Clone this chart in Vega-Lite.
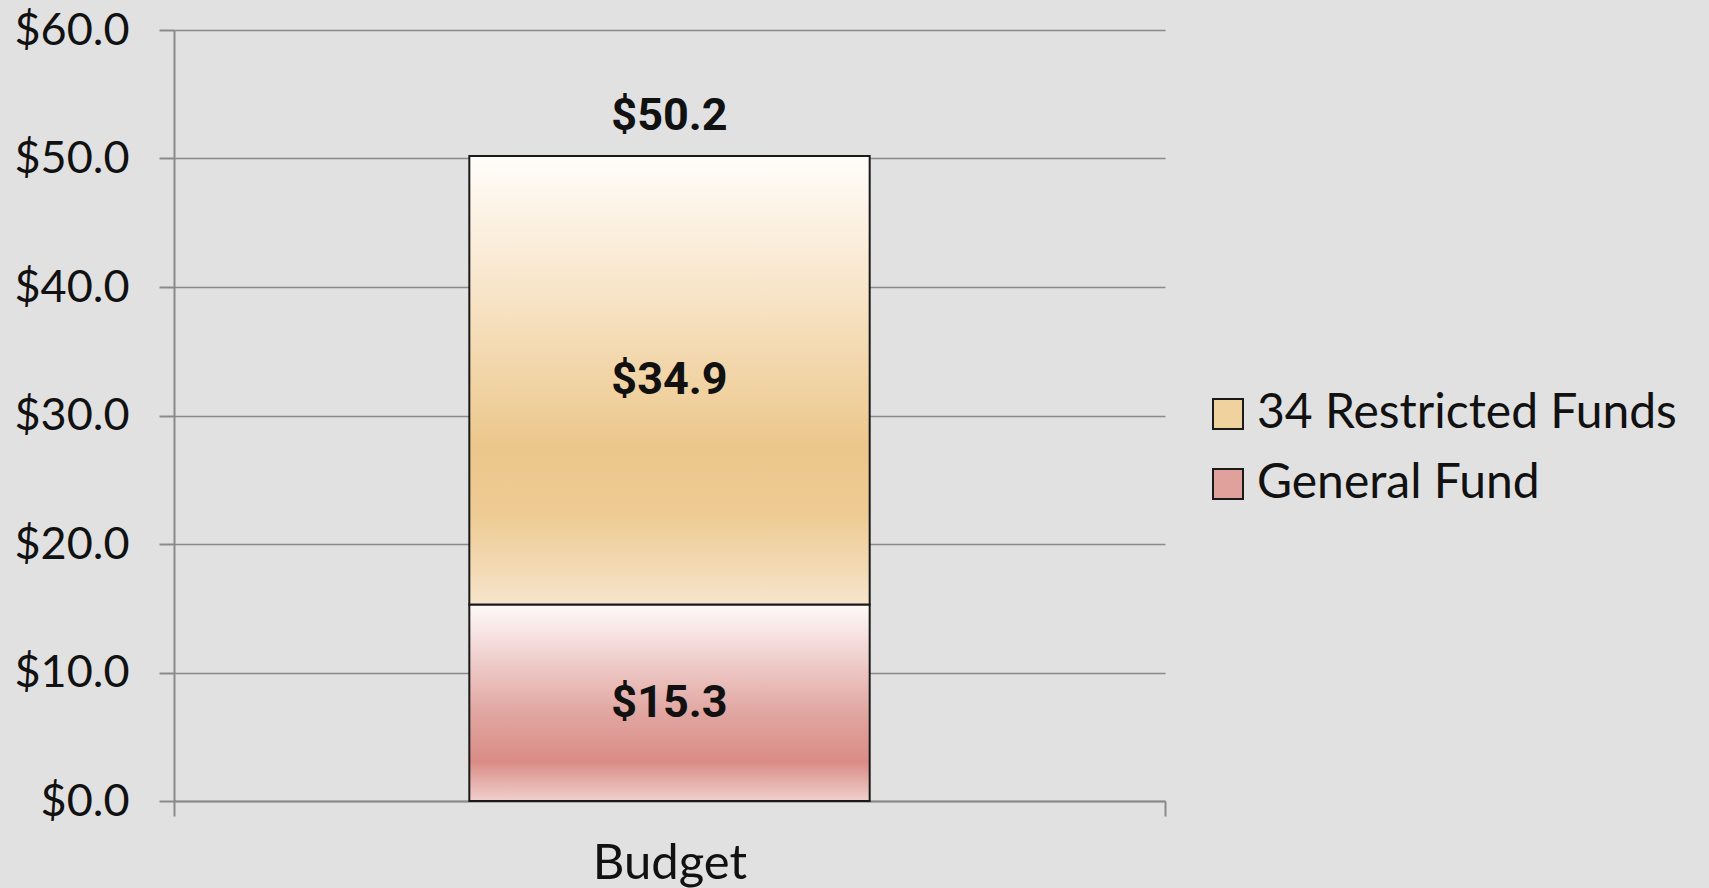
{
  "$schema": "https://vega.github.io/schema/vega-lite/v6.json",
  "autosize": {"type": "none"},
  "width": 991,
  "height": 771,
  "padding": {"left": 174, "top": 30, "right": 544, "bottom": 87},
  "background": "#e1e1e1",
  "config": {
    "view": {"stroke": null},
    "font": "Lato"
  },
  "data": {
    "values": [
      {"category": "Budget", "fund": "General Fund", "value": 15.3, "rank": 1},
      {"category": "Budget", "fund": "34 Restricted Funds", "value": 34.9, "rank": 2}
    ]
  },
  "transform": [
    {"stack": "value", "groupby": ["category"], "sort": [{"field": "rank", "order": "ascending"}], "as": ["v0", "v1"]},
    {"calculate": "(datum.v0 + datum.v1) / 2", "as": "vmid"}
  ],
  "encoding": {
    "x": {
      "field": "category",
      "type": "nominal",
      "title": null,
      "scale": {"paddingInner": 0, "paddingOuter": 0},
      "axis": {
        "labelAngle": 0,
        "labelFont": "Lato",
        "labelFontWeight": 400,
        "labelFontSize": 49,
        "labelColor": "#111111",
        "labelPadding": 23,
        "tickBand": "extent",
        "tickSize": 15,
        "tickColor": "#8a8a8a",
        "tickWidth": 2,
        "domainColor": "#8a8a8a",
        "domainWidth": 2,
        "grid": false
      }
    },
    "y": {
      "field": "v1",
      "type": "quantitative",
      "title": null,
      "scale": {"domain": [0, 60], "nice": false},
      "axis": {
        "values": [0, 10, 20, 30, 40, 50, 60],
        "format": "$.1f",
        "labelFont": "Lato",
        "labelFontWeight": 400,
        "labelFontSize": 45,
        "labelColor": "#111111",
        "labelPadding": 30,
        "tickSize": 15,
        "tickColor": "#8a8a8a",
        "tickWidth": 2,
        "domainColor": "#8a8a8a",
        "domainWidth": 2,
        "gridColor": "#8a8a8a",
        "gridWidth": 1.5
      }
    },
    "y2": {"field": "v0"}
  },
  "layer": [
    {
      "mark": {"type": "bar", "opacity": 0, "width": {"band": 0.404}},
      "encoding": {
        "color": {
          "field": "fund",
          "type": "nominal",
          "scale": {
            "domain": ["34 Restricted Funds", "General Fund"],
            "range": ["#f0d29f", "#e0a09b"]
          },
          "legend": {
            "title": null,
            "orient": "none",
            "legendX": 1030,
            "legendY": 360,
            "symbolType": "square",
            "symbolSize": 900,
            "symbolOpacity": 1,
            "symbolStrokeColor": "#1a1a1a",
            "symbolStrokeWidth": 2,
            "labelFont": "Lato",
            "labelFontWeight": 400,
            "labelFontSize": 48,
            "labelColor": "#111111",
            "labelOffset": 5,
            "rowPadding": 22,
            "labelLimit": 600
          }
        }
      }
    },
    {
      "transform": [{"filter": "datum.fund === 'General Fund'"}],
      "mark": {
        "type": "bar", "stroke": "#1a1a1a", "strokeWidth": 2, "width": {"band": 0.404},
        "color": {"gradient": "linear", "x1": 0, "y1": 0, "x2": 0, "y2": 1,
          "stops": [
            {"offset": 0, "color": "#fefafa"},
            {"offset": 0.25, "color": "#f1d3d1"},
            {"offset": 0.55, "color": "#e1a6a1"},
            {"offset": 0.8, "color": "#da8c86"},
            {"offset": 1, "color": "#f1d0cd"}
          ]}
      }
    },
    {
      "transform": [{"filter": "datum.fund === '34 Restricted Funds'"}],
      "mark": {
        "type": "bar", "stroke": "#1a1a1a", "strokeWidth": 2, "width": {"band": 0.404},
        "color": {"gradient": "linear", "x1": 0, "y1": 0, "x2": 0, "y2": 1,
          "stops": [
            {"offset": 0, "color": "#fffdfa"},
            {"offset": 0.3, "color": "#f8e5c9"},
            {"offset": 0.65, "color": "#ecc78b"},
            {"offset": 0.8, "color": "#eecb93"},
            {"offset": 1, "color": "#f6e4cb"}
          ]}
      }
    },
    {
      "mark": {"type": "text", "font": "Roboto", "fontWeight": "bold", "fontSize": 45, "color": "#111111", "baseline": "middle"},
      "encoding": {
        "y": {"field": "vmid", "type": "quantitative"},
        "y2": null,
        "text": {"field": "value", "type": "quantitative", "format": "$.1f"}
      }
    },
    {
      "transform": [{"aggregate": [{"op": "sum", "field": "value", "as": "total"}], "groupby": ["category"]}],
      "mark": {"type": "text", "font": "Roboto", "fontWeight": "bold", "fontSize": 45, "color": "#111111", "baseline": "bottom", "dy": -17},
      "encoding": {
        "y": {"field": "total", "type": "quantitative"},
        "y2": null,
        "text": {"field": "total", "type": "quantitative", "format": "$.1f"}
      }
    }
  ]
}
